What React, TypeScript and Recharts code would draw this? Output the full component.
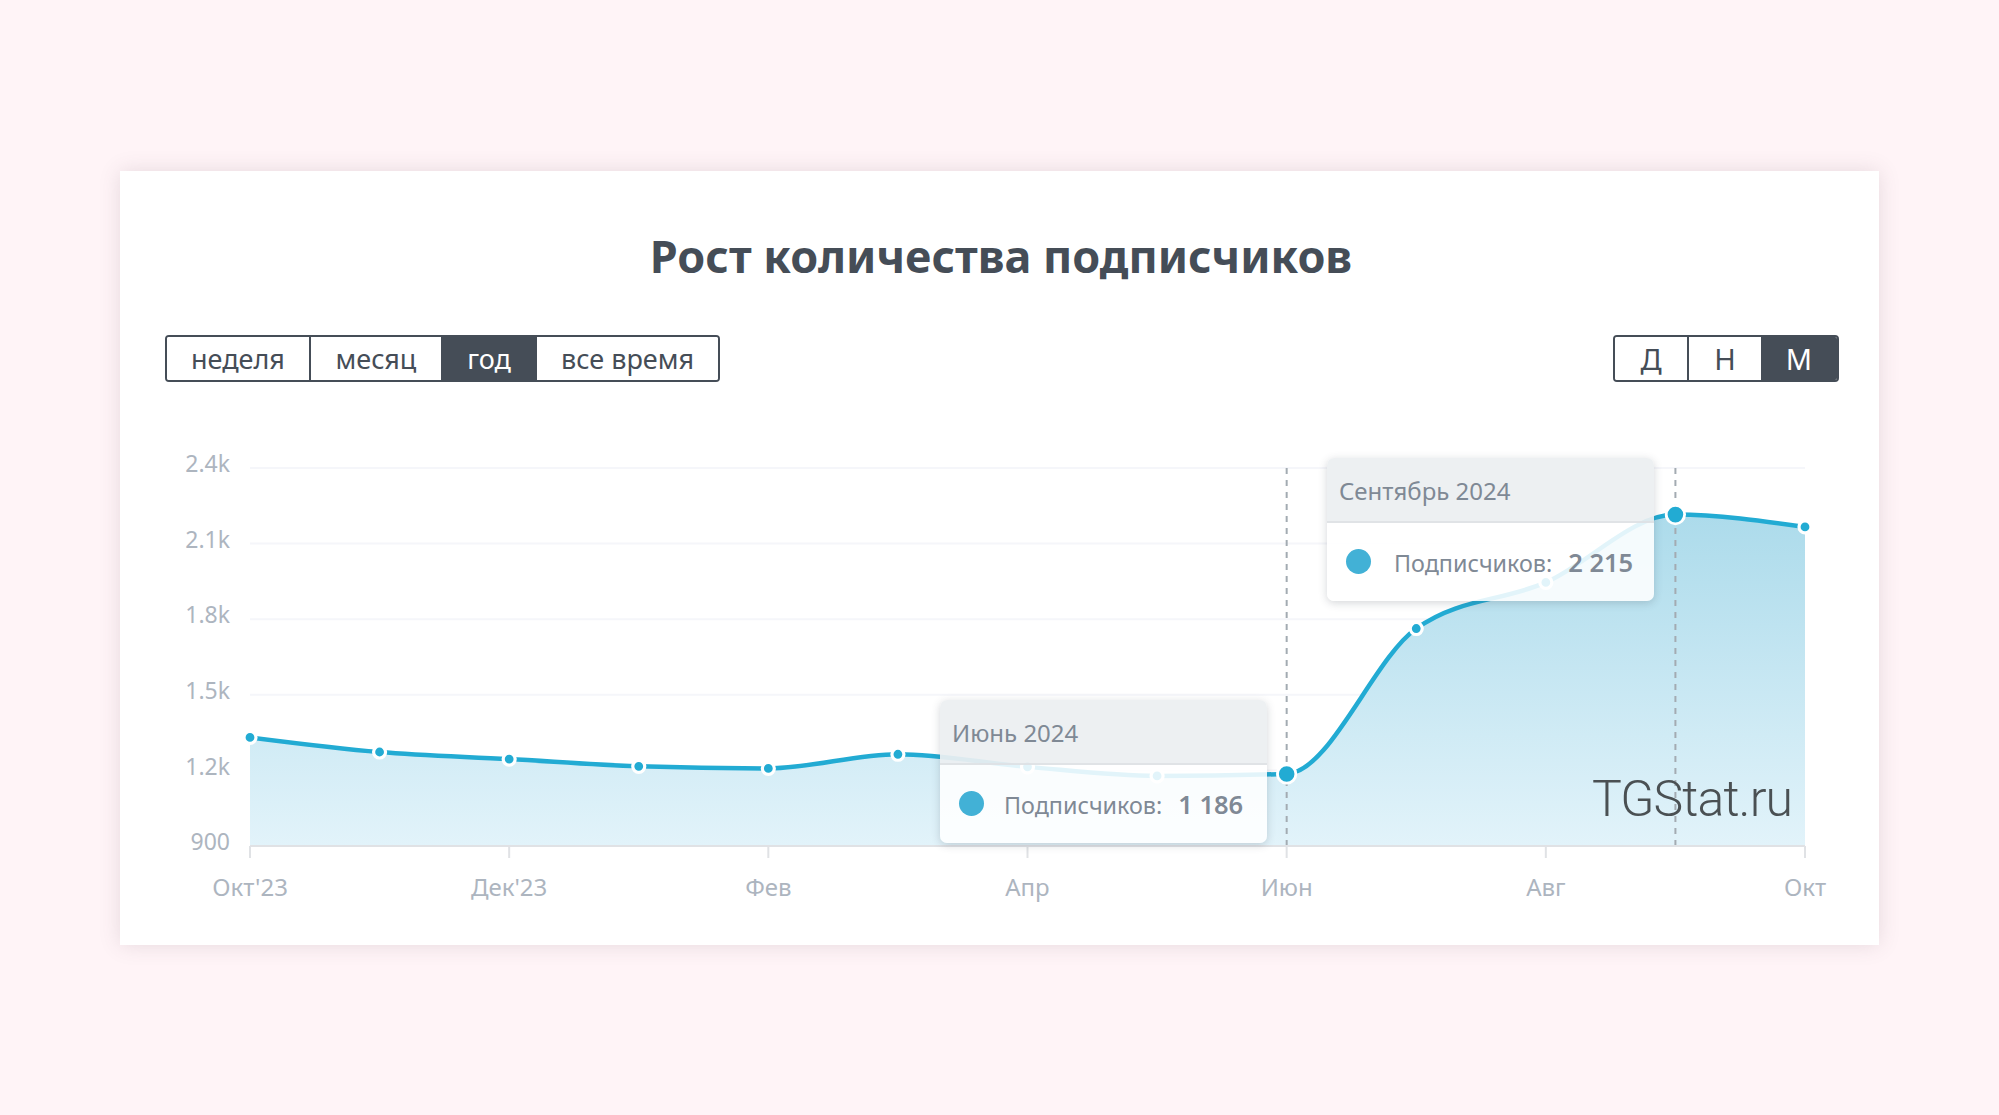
import { Area, AreaChart, CartesianGrid, ReferenceLine, XAxis, YAxis } from "recharts";

// Values
const months = ["Окт'23", "Ноя", "Дек'23", "Янв", "Фев", "Мар", "Апр", "Май", "Июн", "Июл", "Авг", "Сен", "Окт"];
const subscribers = [1331, 1273, 1245, 1216, 1208, 1264, 1214, 1178, 1186, 1763, 1946, 2215, 2166];
const yTicks = [900, 1200, 1500, 1800, 2100, 2400];
const markedMonths = ["Июн", "Сен"];
const periodButtons = ["неделя", "месяц", "год", "все время"];
const stepButtons = ["Д", "Н", "М"];

const chartData = months.map((month, i) => ({ month, subscribers: subscribers[i] }));

const FONT = "'Noto Sans', sans-serif";
const DARK = "#454d57";
const LINE = "#22abd3";

const formatY = (v: number) => (v >= 1000 ? `${(v / 1000).toFixed(1)}k` : `${v}`);

const renderDot = (props: any) => {
  const big = markedMonths.includes(props.payload.month);
  return (
    <circle
      key={props.index}
      cx={props.cx}
      cy={props.cy}
      r={big ? 9.2 : 6}
      fill={LINE}
      stroke="#fff"
      strokeWidth={big ? 2.8 : 3.2}
    />
  );
};

// Segmented button strip
const Buttons = ({ items, widths, active, left, top, height, fontSize }: any) => (
  <div
    style={{
      position: "absolute",
      left,
      top,
      height,
      display: "flex",
      border: `2px solid ${DARK}`,
      borderRadius: 4,
      boxSizing: "border-box",
      overflow: "hidden",
      fontFamily: FONT,
      fontSize,
      color: DARK,
    }}
  >
    {items.map((item: string, i: number) => (
      <div
        key={item}
        style={{
          width: widths[i],
          boxSizing: "border-box",
          display: "flex",
          alignItems: "center",
          justifyContent: "center",
          background: item === active ? DARK : "#fff",
          color: item === active ? "#fff" : DARK,
          borderRight: i < items.length - 1 && items[i + 1] !== active && item !== active ? `2px solid ${DARK}` : "none",
        }}
      >
        {item}
      </div>
    ))}
  </div>
);

const Popup = ({ left, top, title, value, textLeft }: any) => (
  <div
    style={{
      position: "absolute",
      left,
      top,
      width: 327,
      height: 143,
      borderRadius: 7,
      overflow: "hidden",
      boxShadow: "0 2px 9px rgba(60,70,80,0.22)",
      fontFamily: FONT,
      color: "#7f8995",
    }}
  >
    <div
      style={{
        height: 65,
        boxSizing: "border-box",
        background: "rgba(236,239,241,0.93)",
        borderBottom: "2px solid rgba(222,225,228,0.9)",
        paddingLeft: 12,
        lineHeight: "66px",
        fontSize: 24,
      }}
    >
      {title}
    </div>
    <div style={{ position: "relative", height: 78, background: "rgba(255,255,255,0.87)" }}>
      <div
        style={{
          position: "absolute",
          left: 19,
          top: 26,
          width: 25,
          height: 25,
          borderRadius: "50%",
          background: "#42b1d6",
        }}
      />
      <div style={{ position: "absolute", left: textLeft, top: 21, fontSize: 23.3, lineHeight: "36px", whiteSpace: "nowrap" }}>
        Подписчиков:<span style={{ marginLeft: 16, fontWeight: 600, fontSize: 25.5 }}>{value}</span>
      </div>
    </div>
  </div>
);

export default function App() {
  return (
    <div style={{ position: "absolute", left: 0, top: 0, width: 1999, height: 1115, background: "#fff4f7", overflow: "hidden" }}>
      <div
        style={{
          position: "absolute",
          left: 120,
          top: 171,
          width: 1759,
          height: 774,
          background: "#fff",
          boxShadow: "0 0 20px rgba(90,70,80,0.15)",
        }}
      />
      <div
        style={{
          position: "absolute",
          left: 120,
          width: 1762,
          top: 221,
          textAlign: "center",
          fontFamily: FONT,
          fontWeight: 700,
          fontSize: 45,
          lineHeight: "70px",
          color: DARK,
        }}
      >
        Рост количества подписчиков
      </div>
      <Buttons items={periodButtons} widths={[144, 130, 96, 181]} active="год" left={165} top={335} height={47} fontSize={27} />
      <Buttons items={stepButtons} widths={[74, 72, 76]} active="М" left={1613} top={335} height={47} fontSize={29} />

      <div style={{ position: "absolute", left: 120, top: 440 }}>
        <AreaChart width={1758} height={466} data={chartData} margin={{ top: 28, right: 73, bottom: 0, left: 20 }}>
          <defs>
            <linearGradient id="subsFill" x1="0" y1="0" x2="0" y2="1">
              <stop offset="0%" stopColor="#acdbeb" />
              <stop offset="100%" stopColor="#e2f3fa" />
            </linearGradient>
          </defs>
          <CartesianGrid horizontal vertical={false} stroke="#f5f6fa" strokeWidth={2} />
          <XAxis
            dataKey="month"
            interval={1}
            height={60}
            stroke="#e0e2e5"
            strokeWidth={2}
            tickSize={12}
            tickMargin={21}
            tick={{ fill: "#adb5bf", fontSize: 24, fontFamily: FONT }}
          />
          <YAxis
            width={110}
            domain={[900, 2400]}
            ticks={yTicks}
            tickFormatter={formatY}
            axisLine={false}
            tickLine={false}
            tickMargin={14}
            tick={{ fill: "#adb5bf", fontSize: 23, fontFamily: FONT, dy: -4 }}
          />
          <Area
            type="monotone"
            dataKey="subscribers"
            stroke={LINE}
            strokeWidth={4.5}
            fill="url(#subsFill)"
            fillOpacity={1}
            dot={renderDot}
            activeDot={false}
            isAnimationActive={false}
          />
          {markedMonths.map((m) => (
            <ReferenceLine key={m} x={m} stroke="#a3abb2" strokeWidth={2} strokeDasharray="6 6" />
          ))}
        </AreaChart>
      </div>

      <div
        style={{
          position: "absolute",
          left: 1592,
          top: 769,
          fontFamily: "Roboto, sans-serif",
          fontWeight: 300,
          fontSize: 50,
          lineHeight: "60px",
          color: "#4a5053",
          letterSpacing: -0.9,
        }}
      >
        TGStat.ru
      </div>

      <Popup left={940} top={700} title="Июнь 2024" value="1 186" textLeft={64} />
      <Popup left={1327} top={458} title="Сентябрь 2024" value="2 215" textLeft={67} />
    </div>
  );
}
